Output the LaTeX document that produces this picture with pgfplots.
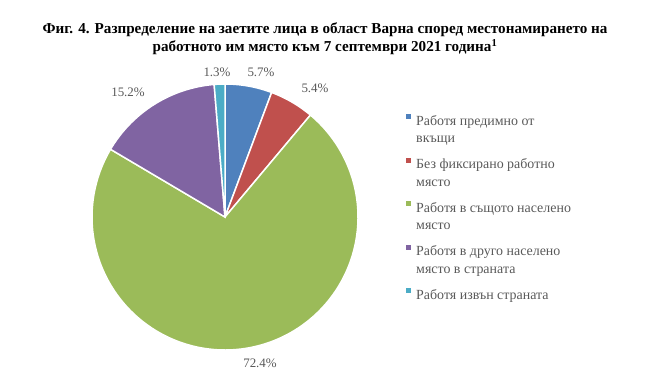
\documentclass[border=0pt]{standalone}
\usepackage{fontspec}
\setmainfont{Liberation Serif}
\usepackage{pgfplots}
\pgfplotsset{compat=1.18}
\definecolor{cA}{HTML}{4F81BD}
\definecolor{cB}{HTML}{C0504D}
\definecolor{cC}{HTML}{9BBB59}
\definecolor{cD}{HTML}{8064A2}
\definecolor{cE}{HTML}{4BACC6}
\definecolor{txt}{HTML}{595959}
% shares, %
\def\vA{5.7}\def\vB{5.4}\def\vC{72.4}\def\vD{15.2}\def\vE{1.3}
\pgfmathsetmacro\aA{90}
\pgfmathsetmacro\aB{\aA-3.6*\vA}
\pgfmathsetmacro\aC{\aB-3.6*\vB}
\pgfmathsetmacro\aD{\aC-3.6*\vC}
\pgfmathsetmacro\aE{\aD-3.6*\vD}
\pgfmathsetmacro\aF{\aE-3.6*\vE}
\def\cx{225}\def\cy{173}\def\R{133}
\newcommand\LE[2]{\hspace*{3bp}\parbox[t]{190bp}{#1\\#2}}
\begin{document}
\begin{tikzpicture}[x=1bp,y=1bp]
\path[use as bounding box] (0,0) rectangle (645,390);
\begin{axis}[at={(0,0)}, anchor=south west,
  width=645bp, height=390bp, scale only axis,
  xmin=0, xmax=645, ymin=0, ymax=390, hide axis, clip=false,
  legend style={at={(axis cs:403,279)}, anchor=north west, draw=none, fill=none,
    font=\fontsize{14}{17.5}\selectfont, text=txt, row sep=28bp,
    cells={anchor=west}},
  legend cell align=left,
  legend image code/.code={\fill[#1,draw=none] (-2.5bp,1.8bp) rectangle (2.5bp,6.8bp);}
]
\addplot[fill=cA, draw=white, line width=1.5pt, domain=\aB:\aA, samples=30, variable=\t]
  ({\cx+\R*cos(\t)},{\cy+\R*sin(\t)}) -- (axis cs:\cx,\cy) -- cycle;
\addlegendentry{\LE{Работя предимно от}{вкъщи}}
\addplot[fill=cB, draw=white, line width=1.5pt, domain=\aC:\aB, samples=30, variable=\t]
  ({\cx+\R*cos(\t)},{\cy+\R*sin(\t)}) -- (axis cs:\cx,\cy) -- cycle;
\addlegendentry{\LE{Без фиксирано работно}{място}}
\addplot[fill=cC, draw=white, line width=1.5pt, domain=\aD:\aC, samples=150, variable=\t]
  ({\cx+\R*cos(\t)},{\cy+\R*sin(\t)}) -- (axis cs:\cx,\cy) -- cycle;
\addlegendentry{\LE{Работя в същото населено}{място}}
\addplot[fill=cD, draw=white, line width=1.5pt, domain=\aE:\aD, samples=40, variable=\t]
  ({\cx+\R*cos(\t)},{\cy+\R*sin(\t)}) -- (axis cs:\cx,\cy) -- cycle;
\addlegendentry{\LE{Работя в друго населено}{място в страната}}
\addplot[fill=cE, draw=white, line width=1.5pt, domain=\aF:\aE, samples=10, variable=\t]
  ({\cx+\R*cos(\t)},{\cy+\R*sin(\t)}) -- (axis cs:\cx,\cy) -- cycle;
\addlegendentry{\hspace*{3bp}Работя извън страната}
\begin{scope}[every node/.style={font=\fontsize{13}{15}\selectfont, text=txt}]
\node at (axis cs:217,318) {1.3\%};
\node at (axis cs:261,318) {5.7\%};
\node at (axis cs:315,302) {5.4\%};
\node at (axis cs:128,298) {15.2\%};
\node at (axis cs:260,27) {72.4\%};
\end{scope}
\node[font=\fontsize{15.2}{18}\selectfont\bfseries, align=center] at (axis cs:325,351)
  {Фиг. 4. Разпределение на заетите лица в област Варна според местонамирането на\\
   работното им място към 7 септември 2021 година\textsuperscript{1}};
\end{axis}
\end{tikzpicture}
\end{document}
